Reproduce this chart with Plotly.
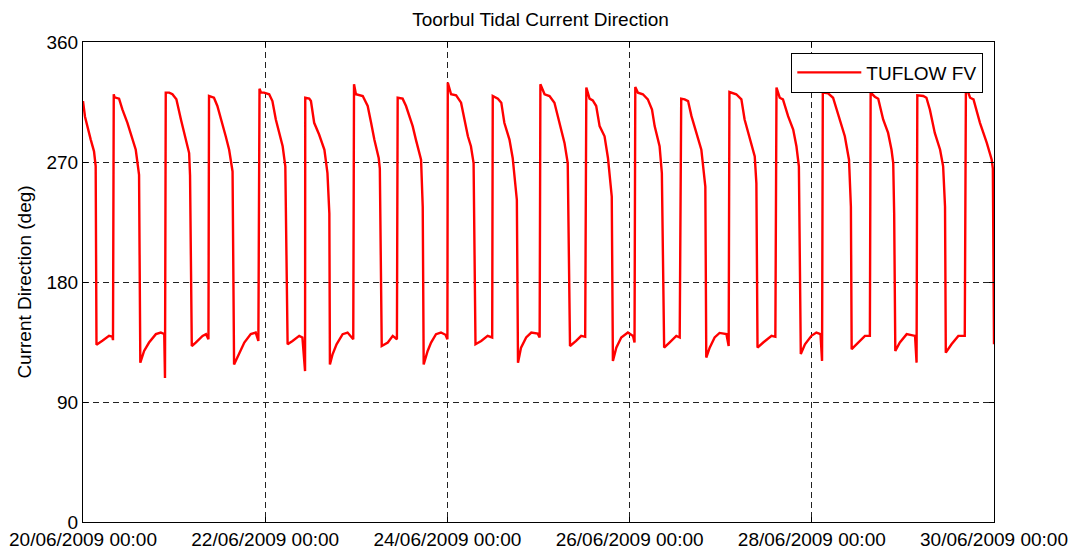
import pandas as pd
import plotly.graph_objects as go

# ---- data (hours since 20/06/2009 00:00, direction in degrees) ----
start_time = "2009-06-20 00:00"
series_name = "TUFLOW FV"

hours = (
    [0.0, 0.53, 2.02, 2.9, 3.34, 3.55, 5.1, 6.86, 7.74, 7.9]
    + [8.1, 8.3, 9.5, 10.37, 11.7, 13.0, 13.9, 14.77, 15.1, 16.1, 17.4, 19.2, 20.5, 21.4, 21.6]
    + [21.8, 22.7, 23.56, 24.6, 25.8, 26.9, 27.96, 28.2, 28.66, 29.7, 31.5, 32.4, 33.05]
    + [33.2, 34.5, 35.4, 36.7, 37.6, 38.5, 39.4, 39.8, 41.1, 42.5, 44.2, 45.5, 46.2]
    + [46.5, 46.9, 47.7, 49.05, 49.9, 50.8, 51.7, 52.6, 53.3, 53.9, 55.2, 56.96, 57.8, 58.5]
    + [58.55, 59.6, 60.05, 60.9, 62.2, 63.6, 64.4, 64.9, 65.05, 65.75, 66.8, 68.4, 69.7, 71.2]
    + [71.4, 71.9, 73.7, 75.0, 75.9, 76.75, 77.9, 78.2, 78.7, 80.3, 81.6, 82.7]
    + [82.9, 84.2, 85.1, 86.85, 87.7, 89.06, 89.5, 89.75, 90.8, 91.7, 93.0, 94.3, 95.5, 96.0]
    + [96.1, 96.97, 98.3, 99.6, 100.5, 101.4, 102.2, 102.9, 103.4, 104.9, 106.6, 107.8]
    + [107.95, 109.3, 110.2, 111.0, 112.35, 113.2, 114.3, 114.6, 115.4, 116.75, 118.1, 119.8, 120.3]
    + [120.5, 121.6, 122.9, 124.2, 125.5, 126.85, 127.7, 128.3, 129.9, 131.25, 132.3]
    + [132.6, 133.45, 134.3, 135.2, 136.1, 137.4, 138.3, 139.3, 139.6, 140.5, 141.8, 143.55, 144.0, 144.9, 145.3]
    + [145.5, 146.2, 147.5, 148.8, 149.9, 150.6, 151.9, 152.5, 153.1, 154.5, 156.3, 157.2]
    + [157.6, 158.5, 159.4, 160.3, 161.6, 162.9, 163.95, 164.2, 165.1, 166.4, 167.7, 169.5, 170.1]
    + [170.3, 172.1, 173.45, 174.3, 175.6, 176.97, 177.4, 177.7, 179.2, 181.4, 182.4]
    + [182.7, 183.55, 184.4, 185.75, 187.1, 187.95, 188.6, 189.1, 190.2, 191.9, 193.2, 194.3, 194.7]
    + [194.9, 196.3, 197.6, 199.4, 200.7, 201.8, 202.3, 202.5, 204.2, 206.0, 207.3]
    + [207.5, 208.6, 209.5, 210.8, 212.1, 213.0, 213.45, 213.7, 214.0, 215.2, 217.0, 219.2, 219.6]
    + [219.8, 221.35, 222.2, 223.1, 224.4, 225.8, 226.6, 227.1, 227.3, 228.8, 230.6, 232.3]
    + [232.6, 233.7, 234.6, 236.3, 238.1, 239.4, 239.7, 239.85, 240.0]
)

direction = (
    [315.7, 304, 287, 278, 267, 133, 136, 139.6, 139, 136.4]
    + [320.8, 318.5, 317.5, 309.4, 299.4, 286.8, 279.2, 260.4, 119.5, 128.3, 134.6, 140.9, 142.1, 141, 108]
    + [322, 322, 320.8, 317, 301.9, 289.3, 276.7, 260, 132, 134.6, 139.6, 140.9, 137.1]
    + [319.5, 318.2, 312, 299.4, 289.3, 279.2, 262.9, 118.2, 125.8, 134.6, 140.9, 142.1, 135.8]
    + [325, 322, 322, 320.8, 315.7, 301.9, 291.8, 281.8, 266.7, 133.3, 135.8, 139.6, 138.4, 113.2]
    + [318.2, 317.5, 315.7, 299.4, 290.6, 279.2, 261.6, 231.5, 118.2, 125.8, 133.3, 140.9, 142.1, 137.1]
    + [328.3, 320.8, 319.5, 312, 299.4, 286.8, 273, 265, 132, 134.6, 139.6, 137.1]
    + [318.2, 317.5, 312, 296.9, 286.8, 271.7, 236.5, 118.2, 128.3, 134.6, 140.9, 142.1, 140.4, 137]
    + [329.6, 320.8, 320, 314.5, 301.9, 289.3, 281.8, 269.2, 133.3, 135.8, 139.6, 138.4]
    + [319.5, 317.5, 314.5, 299.4, 286.8, 273, 241.5, 119.5, 130.8, 138.4, 142.1, 141.3, 138.4]
    + [328.3, 320.8, 319.5, 314.5, 299.4, 284.3, 269.2, 132, 135.8, 139.6, 138.9]
    + [325.8, 317.5, 316.2, 312, 296.9, 289.3, 273, 244, 120.8, 130.8, 138.4, 142.1, 141.4, 139.6, 134.6]
    + [326.3, 322, 320.8, 317, 309.4, 296.9, 281.8, 261.6, 130.8, 134.6, 139.6, 138.4]
    + [317.5, 317, 315.7, 304.4, 291.8, 279.2, 251.6, 123.3, 130.8, 138.4, 141.8, 140.9, 132]
    + [322.5, 320.8, 317, 301.9, 289.3, 274.2, 254, 130.8, 134.6, 139.6, 138.9]
    + [325.8, 318.2, 317, 304.4, 294.3, 281.8, 266.7, 126, 133.3, 139.6, 142.1, 140.9, 120.8]
    + [322, 321.5, 318.2, 301.9, 289.3, 271.7, 236.5, 129.6, 134.6, 139.6, 139.6]
    + [322, 319, 317.5, 301.9, 291.8, 279.2, 269.2, 231.5, 128.3, 134.6, 140.9, 139.6, 119.5]
    + [320, 319.5, 318.2, 309.4, 291.8, 279.2, 266.7, 236.5, 127, 133.3, 139.6, 139.6]
    + [327, 318.2, 317, 299.4, 284.3, 271.7, 265, 133.3, 133.3]
)

y_ticks = [0, 90, 180, 270, 360]
x_range = ["2009-06-20 00:00", "2009-06-30 00:00"]

times = pd.Timestamp(start_time) + pd.to_timedelta(hours, unit="h")

FONT = "Liberation Sans, Arial, Helvetica, sans-serif"
FS = 19

fig = go.Figure()
fig.add_trace(go.Scatter(
    x=times, y=direction, mode="lines", name=series_name,
    line=dict(color="#ff0000", width=2.4),
))

axis_common = dict(
    showline=True, linecolor="black", linewidth=1, mirror="ticks",
    ticks="inside", ticklen=5, tickcolor="black",
    showgrid=True, gridcolor="#222222", gridwidth=1, griddash="6px,4px",
    zeroline=False, automargin=False,
    tickfont=dict(family=FONT, size=FS, color="black"),
)

fig.update_xaxes(
    type="date", range=x_range, dtick=2 * 86400000, tick0=x_range[0],
    tickformat="%d/%m/%Y %H:%M", **axis_common,
)
fig.update_yaxes(
    range=[0, 360], tickvals=y_ticks, **axis_common,
    title=dict(text="Current Direction (deg)", font=dict(family=FONT, size=FS, color="black"), standoff=9),
)

fig.update_layout(
    width=1081, height=549,
    margin=dict(l=83, r=87, t=42, b=27),
    paper_bgcolor="white", plot_bgcolor="white",
    title=dict(text="Toorbul Tidal Current Direction", x=0.5, xanchor="center",
               y=1 - 19 / 549, yanchor="middle", yref="container",
               font=dict(family=FONT, size=FS, color="black")),
    legend=dict(x=0.7775, y=0.978, xanchor="left", yanchor="top",
                bordercolor="black", borderwidth=1, bgcolor="white",
                itemwidth=64,
                font=dict(family=FONT, size=FS, color="black")),
    showlegend=True,
)

fig.write_html("out.html", config={"displayModeBar": False},
               post_script="document.body.style.margin='0';")
